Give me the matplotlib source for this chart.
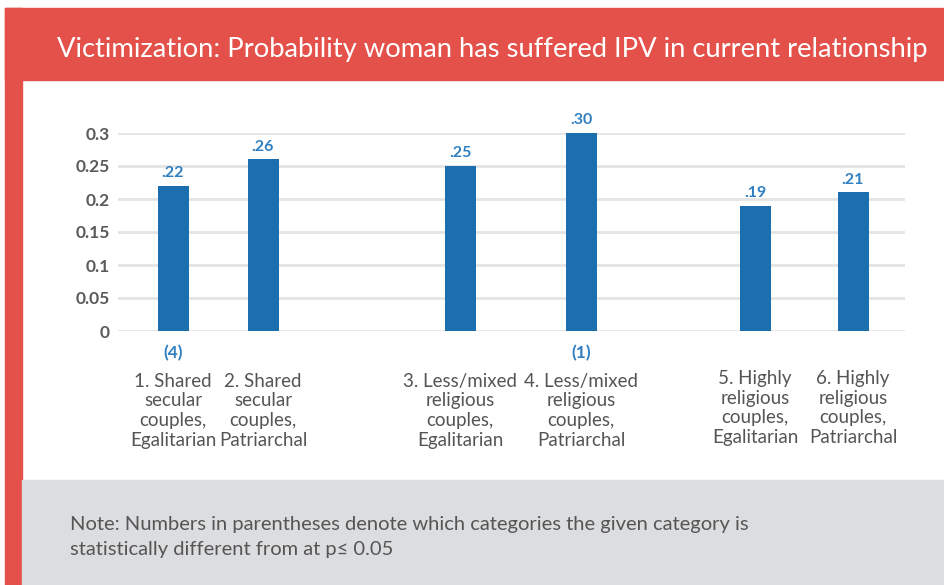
import matplotlib.pyplot as plt
from matplotlib.patches import Rectangle

# data
categories = [
    "1. Shared\nsecular\ncouples,\nEgalitarian",
    "2. Shared\nsecular\ncouples,\nPatriarchal",
    "3. Less/mixed\nreligious\ncouples,\nEgalitarian",
    "4. Less/mixed\nreligious\ncouples,\nPatriarchal",
    "5. Highly\nreligious\ncouples,\nEgalitarian",
    "6. Highly\nreligious\ncouples,\nPatriarchal",
]
values = [0.22, 0.26, 0.25, 0.30, 0.19, 0.21]
value_labels = [".22", ".26", ".25", ".30", ".19", ".21"]
sig_labels = ["(4)", "", "", "(1)", "", ""]
yticks = [0, 0.05, 0.1, 0.15, 0.2, 0.25, 0.3]
ytick_labels = ["0", "0.05", "0.1", "0.15", "0.2", "0.25", "0.3"]

title = "Victimization: Probability woman has suffered IPV in current relationship"
note = ("Note: Numbers in parentheses denote which categories the given category is\n"
        "statistically different from at p\u2264 0.05")

# layout
xpos = [55, 145, 342, 463, 637, 735]
red = "#e4514a"
blue = "#1b6fae"
label_blue = "#2f7fc1"
grey_text = "#555555"

plt.rcParams['font.family'] = ['Lato', 'DejaVu Sans']

fig = plt.figure(figsize=(9.44, 5.85), dpi=100)
W, H = 944, 585

def px(x, y, w, h):
    return (x / W, 1 - (y + h) / H, w / W, h / H)

# background panels
bg = fig.add_axes([0, 0, 1, 1])
bg.set_xlim(0, W)
bg.set_ylim(H, 0)
bg.axis('off')
bg.add_patch(Rectangle((5, 8), W - 5, 72, color=red))
bg.add_patch(Rectangle((5, 8), 17, H - 8, color=red))
bg.add_patch(Rectangle((22, 480), W - 22, H - 480, color="#dcdddf"))
bg.text(57, 50, title, color="white", fontsize=19.7, va="center", ha="left")
bg.text(70, 537, note, color=grey_text, fontsize=14.5, va="center", ha="left",
        linespacing=1.6)

# chart
ax = fig.add_axes(px(118, 133, 787, 198))
ax.set_xlim(0, 787)
ax.set_ylim(0, 0.3)
ax.bar(xpos, values, width=31, color=blue, zorder=3)
ax.set_yticks(yticks)
ax.set_yticklabels(ytick_labels, fontweight="bold")
ax.yaxis.grid(True, color="#e4e4e4", linewidth=2)
ax.set_axisbelow(True)
ax.tick_params(axis='y', length=0, pad=6, labelsize=12.5, labelcolor="#5a5a5a")
ax.set_xticks([])
for s in ax.spines.values():
    s.set_visible(False)

for x, v, lab in zip(xpos, values, value_labels):
    ax.annotate(lab, (x, v), xytext=(0, 4), textcoords="offset points",
                ha="center", va="bottom", color=label_blue, fontsize=11.5,
                fontweight="bold", clip_on=False)

for x, s in zip(xpos, sig_labels):
    if s:
        ax.annotate(s, (x, 0), xytext=(0, -16), textcoords="offset points",
                    ha="center", va="center", color=label_blue, fontsize=12.5,
                    fontweight="bold")

for i, (x, c) in enumerate(zip(xpos, categories)):
    dy = -30 if i < 4 else -28
    ax.annotate(c, (x, 0), xytext=(0, dy), textcoords="offset points",
                ha="center", va="top", color=grey_text, fontsize=13.5,
                linespacing=1.2)

fig.savefig("out.png", dpi=100)
